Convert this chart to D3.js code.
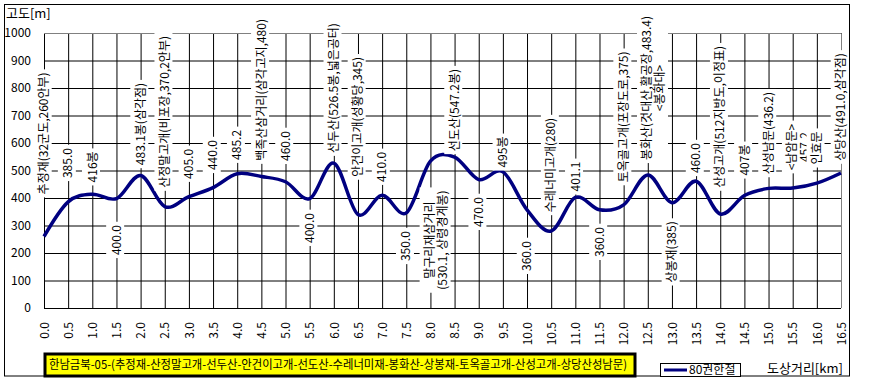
<!DOCTYPE html>
<html>
<head>
<meta charset="utf-8">
<script src="https://cdn.jsdelivr.net/npm/d3@7"></script>
<style>
  body { margin: 0; background: #fff; }
  text { font-family: "Noto Sans CJK KR", "Noto Sans", sans-serif; fill: #000; }
</style>
</head>
<body>
<svg id="chart" width="880" height="384"></svg>
<script>
// distance along the ridge (km) and elevation (m), one point every 0.5 km
const distances = d3.range(0, 16.51, 0.5);
const elevations = [
  260, 386, 414, 398, 482, 369, 405, 438, 488, 478,
  459, 398, 527, 340, 410, 346, 534, 549, 467, 495,
  357, 280, 402, 357, 375, 484, 383, 461, 342, 409,
  435, 436, 454, 491
];

// data labels at each point ("\n" = second line) and the height (m) of their centre
const pointLabels = [
  "추정재(32군도,260안부)", "385.0", "416봉", "400.0", "483.1봉(삼각점)",
  "산정말고개(비포장,370,2안부)", "405.0", "440.0", "485.2", "백족산삼거리(삼각고지,480)",
  "460.0", "400.0", "선두산(526.5봉,넓은공터)", "안건이고개(성황당,345)", "410.0",
  "350.0", "말구리재삼거리\n(530.1, 상령경계봉)", "선도산(547.2봉)", "470.0", "495봉",
  "360.0", "수레너미고개(280)", "401.1", "360.0", "토옥골고개(포장도로,375)",
  "봉화산(것대산,활공장,483.4)\n<봉화대>", "상봉재(385)", "460.0", "산성고개(512지방도,이정표)", "407봉",
  "산성남문(436.2)", "<남암문>\n457.2", "인효문", "상당산(491.0,삼각점)"
];
const labelAt = [
  635, 527, 513, 247, 669, 713, 524, 556, 593, 793,
  589, 291, 800, 695, 513, 225, 247, 720, 349, 567,
  189, 520, 478, 240, 695, 800, 204, 545, 695, 538,
  636, 585, 582, 731
];

const yTicks = d3.range(0, 1001, 100);
const xTickLabels = distances.map(d => d.toFixed(1));

const yTitle = "고도[m]";
const xTitle = "도상거리[km]";
const seriesName = "80권한철";
const routeTitle = "한남금북-05-(추정재-산정말고개-선두산-안건이고개-선도산-수레너미재-봉화산-상봉재-토옥골고개-산성고개-상당산성남문)";

const svg = d3.select("#chart");
const navy = "#000080";

const x = d3.scaleLinear().domain([0, 16.5]).range([44, 841]);
const y = d3.scaleLinear().domain([0, 1000]).range([308, 33]);

// outer frame
svg.append("rect")
  .attr("x", 4.5).attr("y", 4.5)
  .attr("width", 845).attr("height", 371.5)
  .attr("fill", "none").attr("stroke", "#000");

svg.append("text")
  .attr("x", 6).attr("y", 18)
  .style("font-size", "13px")
  .text(yTitle);

// y grid + labels
const yAxis = svg.append("g")
  .attr("transform", `translate(${x(0)},0)`)
  .call(d3.axisLeft(y).tickValues(yTicks).tickFormat(d => String(d))
    .tickSize(-(x(16.5) - x(0))).tickPadding(13));
yAxis.select(".domain").remove();
yAxis.selectAll("line").attr("stroke", "#000");
yAxis.selectAll("text").style("font-size", "12px").style("font-family", null);

// x grid + rotated labels
const xAxis = svg.append("g")
  .attr("transform", `translate(0,${y(0)})`)
  .call(d3.axisBottom(x).tickValues(distances).tickSize(-(y(0) - y(1000)))
    .tickFormat((d, i) => xTickLabels[i]));
xAxis.select(".domain").remove();
xAxis.selectAll("line").attr("stroke", "#000");
xAxis.selectAll("text")
  .style("font-size", "12px").style("font-family", null)
  .attr("transform", "rotate(-90)")
  .attr("x", -14).attr("y", 0).attr("dy", "0.35em")
  .attr("text-anchor", "end");

// plot area border (grey on top and right)
svg.append("path")
  .attr("d", `M${x(0)},${y(1000) + 0.5}H${x(16.5) + 0.5}V${y(0)}`)
  .attr("fill", "none").attr("stroke", "#808080");

// elevation profile
const line = d3.line()
  .x((d, i) => x(distances[i]))
  .y(d => y(d))
  .curve(d3.curveCatmullRom.alpha(0));

svg.append("path")
  .datum(elevations)
  .attr("d", line)
  .attr("fill", "none")
  .attr("stroke", navy)
  .attr("stroke-width", 3.5)
  .attr("stroke-linejoin", "round");

// data labels (vertical, white box behind)
const labels = svg.append("g").selectAll("g")
  .data(pointLabels)
  .join("g")
  .attr("transform", (d, i) => `translate(${x(distances[i])},${y(labelAt[i])}) rotate(-90)`);

labels.each(function (d) {
  const g = d3.select(this);
  const parts = d.split("\n");
  const shift = parts.length > 1 ? 6 : 0;
  const box = g.append("rect").attr("fill", "#fff");
  const t = g.append("text")
    .attr("text-anchor", "middle")
    .style("font-size", "12px");
  parts.forEach((p, k) => {
    t.append("tspan")
      .attr("x", 0)
      .attr("y", shift + (k - (parts.length - 1) / 2) * 13)
      .attr("dy", "0.35em")
      .text(p);
  });
  const b = t.node().getBBox();
  box.attr("x", b.x - 3).attr("y", b.y - 0.5)
    .attr("width", b.width + 6).attr("height", b.height + 1);
});

// route title box
svg.append("rect")
  .attr("x", 45).attr("y", 354)
  .attr("width", 590).attr("height", 22)
  .attr("fill", "#ffff00")
  .attr("stroke", "#000").attr("stroke-width", 3);
svg.append("text")
  .attr("x", 49).attr("y", 365).attr("dy", "0.35em")
  .attr("textLength", 578).attr("lengthAdjust", "spacingAndGlyphs")
  .style("font-size", "12px")
  .text(routeTitle);

// legend
svg.append("rect")
  .attr("x", 660.5).attr("y", 363.5)
  .attr("width", 80).attr("height", 13)
  .attr("fill", "#fff").attr("stroke", "#000");
svg.append("line")
  .attr("x1", 664).attr("x2", 687)
  .attr("y1", 370).attr("y2", 370)
  .attr("stroke", navy).attr("stroke-width", 3);
svg.append("text")
  .attr("x", 689).attr("y", 370).attr("dy", "0.35em")
  .style("font-size", "12px")
  .text(seriesName);

svg.append("text")
  .attr("x", 767).attr("y", 368).attr("dy", "0.35em")
  .style("font-size", "13px")
  .text(xTitle);
</script>
</body>
</html>
